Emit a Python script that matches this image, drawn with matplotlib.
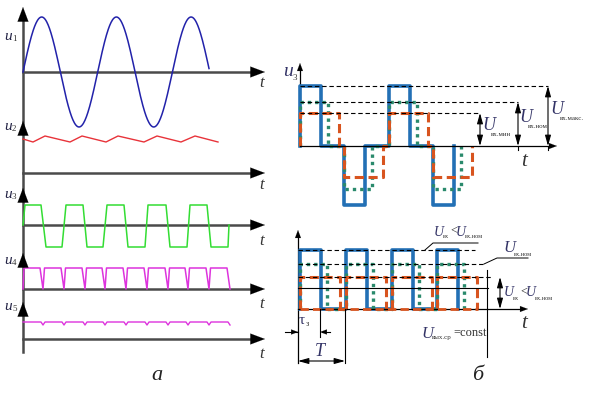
import numpy as np
import matplotlib
matplotlib.use("Agg")
import matplotlib.pyplot as plt

plt.rcParams['font.family'] = ['Liberation Serif', 'DejaVu Serif']

# ---- left panel (a): waveforms, in picture pixels ----
left_x0 = 23
left_x_end = 265
baselines = [72, 173, 225, 289, 339]
arrow_tops = [7, 121, 188, 253, 302]
left_y_bottom = 352

sine_amp = 55
sine_period = 74.7
sine_end = 209

u2_x = [23, 33, 45, 70, 82, 106, 118, 144, 157, 181, 195, 218]
u2_y = [139, 142, 136, 142, 136, 142, 136, 142, 136, 142, 136, 142]

u3_x = [23, 25, 41, 46, 62, 66, 83, 87, 103, 107, 124, 128, 145, 148, 166,
        170, 187, 190, 207, 211, 228, 229]
u3_y = [225, 205, 205, 247, 247, 205, 205, 247, 247, 205, 205, 247, 247, 205, 205,
        247, 247, 205, 205, 247, 247, 225]

u4_dips = [43, 64, 85, 105, 126, 147, 168, 188, 209]
u4_top = 268
u5_level = 322
u5_dip = 325

# ---- right top panel: u3 pulses ----
rt_x0 = 300
rt_base = 146
rt_top = 63
rt_end = 557
rt_pos_starts = [300, 389]
rt_neg_starts = [344, 433]
rt_widths = {'blue': 21, 'green': 28, 'red': 39}
rt_pos_h = {'blue': 60, 'green': 44, 'red': 33}
rt_neg_h = {'blue': 59, 'green': 43, 'red': 31}
rt_ref_y = [86, 102, 113]
rt_ref_end = [548, 518, 480]

# ---- right bottom panel: u4 pulses ----
rb_x0 = 298
rb_base = 309
rb_top = 230
rb_end = 528
rb_bottom = 363
rb_starts = [300, 346, 392, 437]
rb_widths = {'blue': 21, 'green': 27, 'red': 40}
rb_h = {'blue': 59, 'green': 45, 'red': 32}
rb_ref_y = [250, 264, 277]
rb_ref_end = [475, 483, 493]
rb_mean_y = 288
rb_mean_end = 488

styles = {
    'blue': dict(color='#2370b5', lw=2.6, ls='-'),
    'green': dict(color='#2a8a6c', lw=2.4, ls=(0, (1, 1.2))),
    'red': dict(color='#d8541f', lw=2.2, ls=(0, (3, 1.5))),
}

fig = plt.figure(figsize=(5.9, 3.97), dpi=100)
ax = fig.add_axes([0, 0, 1, 1])
ax.set_xlim(0, 590)
ax.set_ylim(397, 0)
ax.axis('off')

axc = '#4a4a4a'


def head(ax, tip, frm, color='black', scale=13):
    ax.annotate('', xy=tip, xytext=frm,
                arrowprops=dict(arrowstyle='-|>,head_length=0.8,head_width=0.3',
                                color=color, lw=0.1, shrinkA=0, shrinkB=0,
                                mutation_scale=scale))


def dim(ax, p1, p2, scale=7):
    ax.annotate('', xy=p2, xytext=p1,
                arrowprops=dict(arrowstyle='<|-|>,head_length=0.9,head_width=0.25',
                                color='black', lw=0.8, shrinkA=0, shrinkB=0,
                                mutation_scale=scale))


def ulab(x, y, main, sub, size=13, subsize=5, dx=9, dy=7, color='#333366'):
    ax.text(x, y, main, fontsize=size, style='italic', color=color,
            ha='left', va='center')
    ax.text(x + dx, y + dy, sub, fontsize=subsize, color='#333333',
            ha='left', va='center')


# left axes
ax.plot([left_x0, left_x0], [arrow_tops[0] + 8, left_y_bottom], color=axc, lw=1.8)
for b, t in zip(baselines, arrow_tops):
    ax.plot([left_x0, left_x_end - 8], [b, b], color=axc, lw=1.8)
    head(ax, (left_x_end, b), (left_x_end - 10, b))
    head(ax, (left_x0, t), (left_x0, t + 10))

# u1 sine
xs = np.linspace(left_x0, sine_end, 400)
ax.plot(xs, baselines[0] - sine_amp * np.sin(2 * np.pi * (xs - left_x0) / sine_period),
        color='#2222aa', lw=1.1)
# u2 sawtooth
ax.plot(u2_x, u2_y, color='#e8333a', lw=1.0)
# u3 trapezoid
ax.plot(u3_x, u3_y, color='#33dd33', lw=1.1)
# u4 rectified
x4 = [23, 24]
y4 = [baselines[3], u4_top]
for d in u4_dips:
    x4 += [d - 3, d, d + 1.5]
    y4 += [u4_top, baselines[3], u4_top]
x4 += [227, 230]
y4 += [u4_top, baselines[3]]
ax.plot(x4, y4, color='#dd33dd', lw=1.1)
# u5 filtered
x5 = [23]
y5 = [u5_level]
for d in u4_dips:
    x5 += [d - 2, d, d + 2]
    y5 += [u5_level, u5_dip, u5_level]
x5 += [228, 230]
y5 += [u5_level, u5_dip]
ax.plot(x5, y5, color='#dd33dd', lw=1.0)

u_label_y = [37, 127, 195, 261, 307]
for i, y in enumerate(u_label_y):
    ulab(4, y, 'u', str(i + 1), size=11, subsize=6.5, dx=8, dy=2, color='#222244')
t_label_y = [83, 185, 241, 304, 354]
for y in t_label_y:
    ax.text(262, y, 't', fontsize=12, style='italic', color='#333333',
            ha='center', va='center')
ax.text(157, 376, 'a', fontsize=16, style='italic', color='#222222',
        ha='center', va='center')

# ---- right top ----
ax.plot([rt_x0, rt_x0], [rt_top + 5, rt_base], color='black', lw=0.9)
head(ax, (rt_x0, rt_top), (rt_x0, rt_top + 6), scale=7)
for name in ['blue', 'green', 'red']:
    w = rt_widths[name]
    px, py = [], []
    for ps, ns in zip(rt_pos_starts, rt_neg_starts):
        px += [ps, ps, ps + w, ps + w, ns, ns, ns + w, ns + w]
        py += [rt_base, rt_base - rt_pos_h[name], rt_base - rt_pos_h[name], rt_base,
               rt_base, rt_base + rt_neg_h[name], rt_base + rt_neg_h[name], rt_base]
    ax.plot(px, py, **styles[name])
ax.plot([rt_x0, rt_end - 6], [rt_base, rt_base], color='black', lw=0.9)
head(ax, (rt_end, rt_base), (rt_end - 6, rt_base), scale=7)
for y, e in zip(rt_ref_y, rt_ref_end):
    ax.plot([rt_x0, e], [y, y], color='black', lw=0.8, ls=(0, (4, 2.5)))
dim(ax, (480, 113), (480, rt_base))
dim(ax, (518, 102), (518, rt_base))
dim(ax, (548, 86), (548, rt_base))
ax.plot([518, 518], [rt_base, 150], color='black', lw=0.8)
ax.plot([548, 548], [rt_base, 150], color='black', lw=0.8)
ulab(482, 126, 'U', 'вх.мин', dx=9, dy=9)
ulab(519, 118, 'U', 'вх.ном', dx=9, dy=9)
ulab(550, 110, 'U', 'вх.макс.', dx=10, dy=8)
ax.text(283, 72, 'u', fontsize=14, style='italic', color='#333366', va='center')
ax.text(293, 78, '3', fontsize=6.5, color='#333333', va='center')
ax.text(524, 162, 't', fontsize=15, style='italic', color='#333333',
        ha='center', va='center')

# ---- right bottom ----
ax.plot([rb_x0, rb_x0], [rb_top + 5, rb_bottom], color='black', lw=0.9)
head(ax, (rb_x0, rb_top), (rb_x0, rb_top + 6), scale=7)
for name in ['blue', 'green', 'red']:
    w = rb_widths[name]
    px, py = [], []
    for s in rb_starts:
        px += [s, s, s + w, s + w]
        py += [rb_base, rb_base - rb_h[name], rb_base - rb_h[name], rb_base]
    ax.plot(px, py, **styles[name])
ax.plot([rb_x0, rb_end - 6], [rb_base, rb_base], color='black', lw=0.9)
ax.plot([300, 478], [rb_base, rb_base], color=styles['red']['color'], lw=2,
        ls=(0, (3, 1.5)))
head(ax, (rb_end, rb_base), (rb_end - 6, rb_base), scale=7)
for y, e in zip(rb_ref_y, rb_ref_end):
    ax.plot([rb_x0, e], [y, y], color='black', lw=0.8, ls=(0, (4, 2.5)))
ax.plot([rb_x0, rb_mean_end], [rb_mean_y, rb_mean_y], color='black', lw=0.8)
ax.plot([487, 487], [270, 357], color='black', lw=0.8)
dim(ax, (500, 277), (500, rb_base))

# leaders
ax.plot([425, 433, 478], [250, 243, 243], color='black', lw=0.7)
ax.plot([484, 497, 528], [264, 258, 258], color='black', lw=0.7)


def inequality(x, y):
    ulab(x, y, 'U', 'вх', size=10, subsize=4.5, dx=9, dy=5)
    ax.text(x + 16, y - 1, '<', fontsize=9, color='#333333', va='center')
    ulab(x + 22, y, 'U', 'вх.ном', size=10, subsize=4.5, dx=9, dy=5)


inequality(434, 232)
ulab(503, 248, 'U', 'вх.ном', size=12, subsize=4.5, dx=11, dy=6)
inequality(504, 293)
ulab(421, 334, 'U', 'вых.ср', size=12, subsize=5, dx=11, dy=4)
ax.text(453, 333, '=const', fontsize=9, color='#333333', va='center')
ax.text(524, 324, 't', fontsize=15, style='italic', color='#333333',
        ha='center', va='center')

# tau and T dimensions
ax.plot([285, 298], [332, 332], color='black', lw=0.8)
head(ax, (298, 332), (292, 332), scale=6)
ax.plot([320, 320], [rb_base, 337], color='black', lw=0.8)
ax.plot([322, 330], [332, 332], color='black', lw=0.8)
head(ax, (320, 332), (326, 332), scale=6)
ax.text(299, 320, 'τ', fontsize=11, color='#333366', va='center')
ax.text(306, 324, 'з', fontsize=6, color='#333333', va='center')
ax.plot([345, 345], [rb_base, rb_bottom], color='black', lw=0.8)
dim(ax, (rb_x0, 361), (345, 361))
ax.text(320, 351, 'T', fontsize=13, style='italic', color='#333366',
        ha='center', va='center')
ax.text(478, 376, 'б', fontsize=16, style='italic', color='#222222',
        ha='center', va='center')

fig.savefig('out.png', dpi=100)
